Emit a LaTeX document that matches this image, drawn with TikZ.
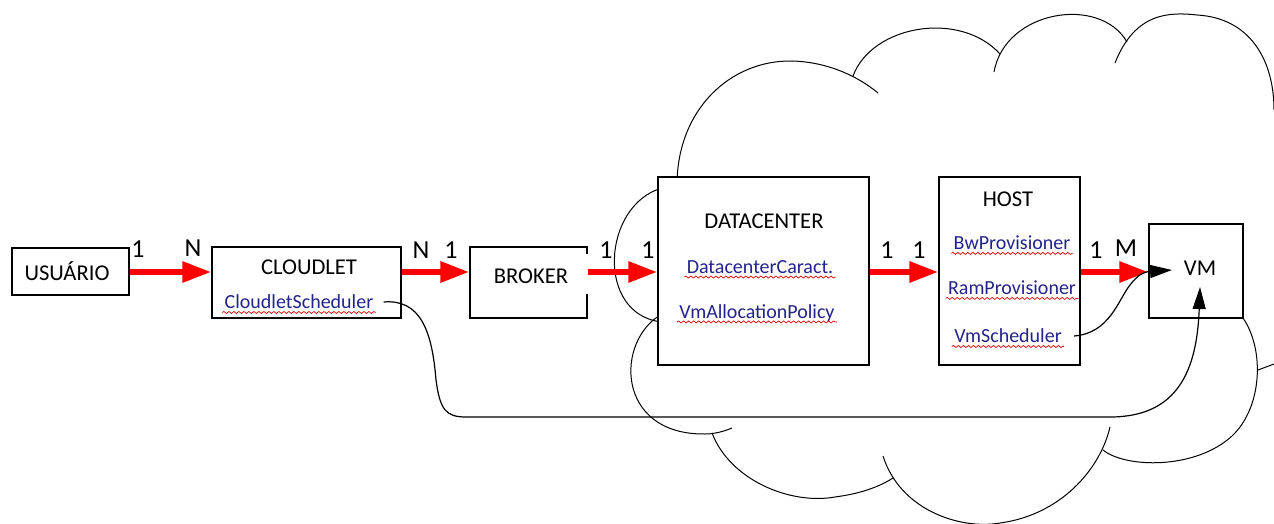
\documentclass[tikz,border=0pt]{standalone}
\usepackage{fontspec}
\setmainfont{Carlito}
\usetikzlibrary{arrows.meta,decorations.pathmorphing}
\definecolor{nomeazul}{RGB}{35,35,140}
\begin{document}
\begin{tikzpicture}[x=0.5pt, y=-0.5pt,
  caixa/.style={draw, line width=0.7pt, fill=white, inner sep=0pt},
  titulo/.style={font=\fontsize{11.3}{13}\selectfont, inner sep=1pt},
  classe/.style={font=\fontsize{10}{12}\selectfont, text=nomeazul, inner sep=1pt},
  card/.style={font=\fontsize{13}{15}\selectfont, inner sep=0pt},
  relacao/.style={draw=red, line width=3pt, -{Triangle[length=14.5pt, width=10pt]}},
  ligacao/.style={draw, line width=0.6pt, -{Triangle[length=11pt, width=6.5pt]}},
  nuvem/.style={draw, line width=0.5pt},
  spell/.style={draw=red!85!black, line width=0.35pt, decorate,
    decoration={snake, amplitude=0.5pt, segment length=2.5pt}}]
  \useasboundingbox (0,0) rectangle (1274,524);
  \coordinate (linha) at (0,272);
  \coordinate (vmbaixo) at (1200,287);
  \coordinate (vmesq) at (1172,270);

  \draw[nuvem] (677,185) .. controls (677,110) and (730,60) .. (792,61) .. controls (830,62) and (860,78) .. (878,93);
  \draw[nuvem] (853,76) .. controls (872,25) and (960,10) .. (1000,54);
  \draw[nuvem] (994,72) .. controls (1005,10) and (1100,-5) .. (1127,42);
  \draw[nuvem] (1115,63) .. controls (1135,12) and (1170,12) .. (1197,15) .. controls (1250,18) and (1274,60) .. (1274,110);
  \draw[nuvem] (662,188) .. controls (602,205) and (595,315) .. (662,322);
  \draw[nuvem] (662,314) .. controls (615,340) and (615,435) .. (705,434) .. controls (715,434) and (725,431) .. (732,428);
  \draw[nuvem] (712,433) .. controls (730,480) and (790,505) .. (835,497) .. controls (865,493) and (882,485) .. (893,478);
  \draw[nuvem] (883,456) .. controls (900,510) and (960,530) .. (1000,523) .. controls (1060,515) and (1100,470) .. (1110,427);
  \draw[nuvem] (1103,450) .. controls (1125,468) and (1195,470) .. (1232,436) .. controls (1262,408) and (1265,350) .. (1243,318);
  \draw[nuvem] (1258,370) -- (1274,364);

  \node[caixa, minimum width=58.5pt, minimum height=23.5pt] (usuario) at (70.5,271.5) {};
  \node[caixa, minimum width=94.5pt, minimum height=35.5pt] (cloudlet) at (306.5,282.5) {};
  \node[caixa, minimum width=58.5pt, minimum height=35.5pt] (broker) at (528.5,282.5) {};
  \node[caixa, minimum width=105.5pt, minimum height=94pt] (datacenter) at (763.5,271) {};
  \node[caixa, minimum width=70.5pt, minimum height=94pt] (host) at (1009.5,271) {};
  \node[caixa, minimum width=47pt, minimum height=47pt] (vm) at (1196,271) {};
  \draw[white, line width=2pt] (broker.north east) ++(0,8) -- ++(0,40);

  \node[titulo] (tusuario) at (67,271) {USUÁRIO};
  \node[titulo] (tcloudlet) at (309,267) {CLOUDLET};
  \node[titulo] (tbroker) at (531,276) {BROKER};
  \node[titulo] (tdatacenter) at (764,221) {DATACENTER};
  \node[titulo] (thost) at (1008,199) {HOST};
  \node[titulo] (tvm) at (1200,268) {VM};

  \node[classe] (cs) at (299,302) {CloudletScheduler};
  \node[classe] (dcc) at (760,267) {DatacenterCaract.};
  \node[classe] (vmap) at (757,313) {VmAllocationPolicy};
  \node[classe] (bwp) at (1012,243) {BwProvisioner};
  \node[classe] (ramp) at (1012,288) {RamProvisioner};
  \node[classe] (vms) at (1008,336) {VmScheduler};
  \foreach \n in {cs,dcc,vmap,bwp,ramp,vms}
    \draw[spell] ([yshift=-1.8pt]\n.base west) -- ([yshift=-1.8pt]\n.base east);

  \foreach \de/\para in {usuario/cloudlet, cloudlet/broker, broker/datacenter, datacenter/host, host/vm}
    \draw[relacao] (\de.east |- linha) -- (\para.west |- linha);
  \foreach \t/\x/\y [count=\i] in {1/138/249, N/193/248, N/421/250, 1/451/250, 1/606/250,
      1/648/250, 1/887/250, 1/919/250, 1/1096/250, M/1126/248}
    \node[card] (card\i) at (\x,\y) {\t};

  \draw[ligacao] ([xshift=4pt]cs.east) .. controls (420,299) and (432,330) .. (436,380)
    .. controls (440,410) and (446,417) .. (466,417) -- (1110,417)
    .. controls (1178,417) and (1197,370) .. (vmbaixo);
  \draw[ligacao] ([xshift=5pt]vms.east) .. controls (1110,333) and (1118,300) .. (1130,285)
    .. controls (1137,276) and (1142,272) .. (vmesq);
\end{tikzpicture}
\end{document}
